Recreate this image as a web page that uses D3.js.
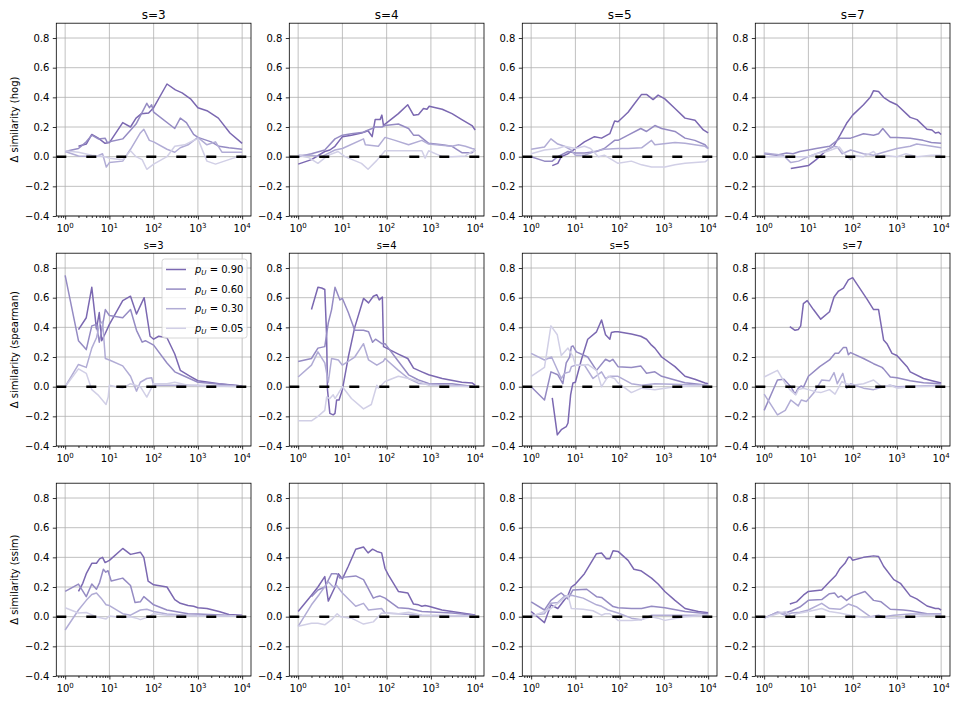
<!DOCTYPE html>
<html>
<head>
<meta charset="utf-8">
<script src="https://cdn.jsdelivr.net/npm/d3@7"></script>
<style>
  body { margin: 0; background: #fff; }
  text { font-family: "DejaVu Sans", sans-serif; fill: #000; }
</style>
</head>
<body>
<div id="chart"></div>
<script>
"use strict";

// chart values ////////////////////////////////////////////
var sValues = [3, 4, 5, 7];
var metrics = ["hog", "spearman", "ssim"];
var pLevels = ["0.90", "0.60", "0.30", "0.05"];
var yTicks = [-0.4, -0.2, 0.0, 0.2, 0.4, 0.6, 0.8];
var xTicks = [1, 10, 100, 1000, 10000];
var xExponents = ["0", "1", "2", "3", "4"];
var lineColors = ["#7b68b1", "#958bc3", "#b1acd5", "#d1cfe6"];

// each panel: [p=0.90, p=0.60, p=0.30, p=0.05], points are [window, delta]
var hog_s3 = [
  [[2,0.07],[3,0.085],[4,0.15],[5.6,0.125],[8,0.09],[10,0.095],[20,0.23],[30,0.2],[40,0.26],[53,0.29],[77,0.295],[100,0.33],[200,0.49],[310,0.45],[440,0.43],[680,0.39],[1000,0.33],[1600,0.31],[2900,0.26],[5300,0.16],[10000,0.09]],
  [[1,0.035],[2,0.055],[3,0.1],[4,0.145],[5.6,0.12],[8,0.125],[9,0.095],[10,0.1],[20,0.12],[40,0.22],[70,0.36],[80,0.33],[90,0.35],[100,0.3],[300,0.19],[400,0.26],[550,0.23],[800,0.15],[1000,0.13],[2000,0.1],[3000,0.07],[5000,0.06],[10000,0.05]],
  [[1,0.035],[2,0.005],[5,0.0],[7,0.02],[8.5,-0.07],[10,-0.04],[20,-0.03],[30,0.05],[50,0.16],[60,0.185],[80,0.11],[100,0.1],[200,0.05],[300,0.03],[400,0.06],[600,0.08],[1000,0.13],[1600,0.08],[2500,0.1],[3500,0.03],[10000,0.03]],
  [[1,0.04],[2,0.03],[4,0.01],[8,0.0],[10,-0.01],[20,-0.02],[30,0.04],[40,0.0],[55,-0.02],[70,-0.085],[100,-0.05],[200,0.0],[300,0.07],[500,0.08],[800,0.11],[1000,0.12],[1600,-0.03],[2500,-0.05],[5000,-0.02],[10000,0.01]]
];
var hog_s4 = [
  [[1,-0.05],[2,-0.02],[4,0.035],[5.2,0.045],[6.8,0.07],[10,0.135],[16,0.145],[27,0.16],[38,0.175],[47,0.135],[55,0.25],[71,0.25],[78,0.28],[85,0.21],[92,0.22],[184,0.29],[300,0.35],[405,0.28],[525,0.285],[680,0.325],[815,0.32],[915,0.34],[1800,0.32],[3000,0.29],[5000,0.25],[8500,0.21],[10000,0.18]],
  [[1,0.0],[2,0.02],[4,0.045],[6.8,0.12],[10,0.145],[16,0.155],[30,0.165],[35,0.175],[47,0.19],[55,0.2],[78,0.2],[92,0.21],[184,0.22],[313,0.19],[405,0.145],[525,0.145],[890,0.09],[1800,0.08],[3000,0.07],[5000,0.027],[8500,0.027],[10000,0.045]],
  [[1,0.01],[2,0.01],[3.4,0.0],[6.8,0.045],[10,0.055],[30,0.12],[33,0.08],[65,0.07],[92,0.13],[155,0.11],[313,0.08],[625,0.11],[890,0.085],[3000,0.07],[4200,0.08],[6000,0.07],[8500,0.055],[10000,0.05]],
  [[1,0.01],[1.7,-0.005],[2.8,-0.045],[4.8,0.01],[8,0.035],[11.4,0.0],[27,-0.045],[38,-0.085],[60,-0.025],[92,0.04],[625,0.04],[740,-0.01],[890,0.04],[1800,0.0],[3000,0.0],[6000,0.005],[8500,0.035],[10000,0.04]]
];
var hog_s5 = [
  [[3,-0.06],[4,-0.045],[4.8,0.0],[6.8,0.02],[10,0.055],[16,0.1],[27,0.135],[39,0.125],[60,0.155],[77,0.24],[92,0.235],[155,0.3],[220,0.36],[313,0.42],[405,0.42],[570,0.385],[740,0.415],[1050,0.39],[1780,0.325],[3000,0.26],[5050,0.245],[7800,0.18],[10000,0.16]],
  [[1,0.0],[2,-0.03],[3,-0.03],[4,0.0],[6.8,0.035],[10,0.025],[16,0.025],[30,0.035],[45,0.055],[77,0.11],[92,0.11],[155,0.145],[300,0.19],[405,0.17],[625,0.21],[890,0.19],[1780,0.17],[3000,0.125],[5000,0.11],[8500,0.08],[10000,0.055]],
  [[1,0.05],[2,0.065],[2.8,0.12],[4,0.085],[5.7,0.07],[8,0.045],[10,0.01],[16,0.01],[27,0.035],[45,0.05],[92,0.055],[155,0.055],[313,0.06],[525,0.11],[625,0.08],[890,0.085],[1780,0.095],[3000,0.09],[5000,0.08],[8500,0.07],[10000,0.055]],
  [[1,0.02],[2,0.045],[4,0.055],[5.7,0.07],[10,0.055],[16,0.07],[22,0.055],[33,0.0],[45,0.01],[92,-0.045],[184,-0.03],[313,-0.055],[525,-0.07],[1050,-0.07],[1780,-0.055],[3000,-0.045],[5000,-0.04],[8500,-0.035],[10000,-0.02]]
];
var hog_s7 = [
  [[4,-0.08],[6.4,-0.07],[10,-0.06],[15,-0.02],[26,0.045],[37,0.07],[52,0.145],[73,0.225],[100,0.28],[176,0.35],[250,0.4],[297,0.445],[385,0.44],[500,0.40],[710,0.37],[1000,0.35],[2000,0.265],[2850,0.25],[4800,0.185],[6200,0.18],[7400,0.16],[8800,0.165],[10000,0.15]],
  [[1,0.02],[1.9,0.01],[3.2,0.025],[4.5,0.02],[6.4,0.035],[10,0.045],[15,0.055],[30,0.07],[52,0.125],[90,0.125],[176,0.155],[297,0.145],[385,0.155],[480,0.19],[710,0.13],[1000,0.13],[2000,0.125],[3900,0.11],[6000,0.095],[10000,0.09]],
  [[1,0.025],[2.7,0.01],[4,-0.04],[6,-0.03],[10,0.0],[15,0.02],[26,0.045],[37,0.07],[45,0.065],[58,0.02],[90,0.045],[176,0.02],[297,0.01],[500,0.03],[1000,0.055],[2000,0.07],[2800,0.085],[4800,0.075],[10000,0.06]],
  [[1,0.0],[2.7,0.0],[6.4,0.0],[10,0.0],[15,0.02],[26,0.035],[50,0.065],[63,0.025],[90,-0.02],[100,0.01],[176,0.0],[297,0.035],[385,0.0],[500,0.01],[1000,0.0],[1600,0.02],[2850,0.0],[6000,0.01],[10000,0.01]]
];
var sp_s3 = [
  [[2,0.385],[3,0.465],[4,0.67],[5.1,0.39],[5.9,0.5],[6.7,0.31],[8.1,0.36],[10,0.42],[20,0.58],[30,0.61],[41,0.49],[61,0.6],[83,0.34],[100,0.32],[130,0.34],[200,0.33],[300,0.22],[400,0.11],[670,0.07],[1000,0.04],[3000,0.02],[10000,0.005]],
  [[1,0.75],[2,0.31],[3,0.25],[4,0.41],[5.1,0.42],[5.9,0.3],[6.7,0.38],[8.1,0.52],[10,0.48],[20,0.465],[30,0.52],[41,0.38],[55,0.3],[65,0.31],[100,0.28],[200,0.16],[300,0.1],[500,0.07],[1000,0.03],[10000,0.005]],
  [[1,0.0],[2,0.15],[3,0.13],[4,0.26],[5.1,0.33],[6,0.42],[7,0.44],[8.1,0.19],[10,0.18],[20,0.14],[30,0.07],[41,-0.03],[50,0.03],[70,0.055],[90,0.06],[100,0.01],[200,0.01],[500,0.01],[10000,0.005]],
  [[1,0.0],[2,0.12],[3,0.09],[4,-0.02],[5.5,-0.055],[8.4,-0.12],[9.4,-0.07],[10,0.01],[20,-0.01],[30,0.02],[50,0.0],[70,-0.07],[100,0.02],[200,0.02],[300,0.03],[600,0.01],[10000,0.0]]
];
var sp_s4 = [
  [[2,0.52],[2.8,0.67],[3.4,0.665],[4,0.655],[4.4,0.34],[4.6,-0.02],[5.2,-0.18],[6.2,-0.19],[6.8,-0.18],[7.4,-0.09],[8.4,-0.09],[10,-0.02],[13.6,0.2],[19,0.4],[30,0.595],[39,0.565],[50,0.61],[60,0.62],[68,0.585],[80,0.605],[85,0.27],[184,0.22],[300,0.19],[405,0.125],[625,0.1],[890,0.08],[1800,0.055],[5000,0.03],[8500,0.025],[10000,0.01]],
  [[1,0.17],[2,0.19],[2.8,0.26],[4,0.27],[4.8,0.43],[5.7,0.52],[6.8,0.67],[8.8,0.585],[10,0.595],[13.6,0.5],[19,0.38],[30,0.38],[39,0.37],[48,0.3],[56,0.32],[78,0.29],[92,0.29],[155,0.2],[313,0.08],[525,0.045],[890,0.022],[3000,0.02],[10000,0.0]],
  [[1,0.065],[2,0.145],[2.8,0.235],[4,0.16],[4.8,0.03],[5.7,0.19],[8.1,0.18],[10,0.145],[19,0.2],[30,0.29],[39,0.18],[60,0.145],[84,0.17],[92,0.19],[184,0.11],[313,0.055],[525,0.022],[10000,0.0]],
  [[1,-0.23],[2,-0.23],[2.8,-0.2],[4,-0.16],[4.4,-0.07],[5.2,-0.08],[6.2,-0.055],[6.8,-0.08],[8.1,-0.045],[10,0.0],[16,-0.08],[30,-0.15],[45,-0.12],[60,0.01],[65,-0.01],[92,0.035],[184,0.07],[313,0.055],[525,0.035],[890,0.01],[10000,0.0]]
];
var sp_s5 = [
  [[3,-0.075],[3.9,-0.325],[4.8,-0.29],[6.2,-0.27],[6.8,-0.245],[7.8,-0.055],[8.8,0.025],[10,0.03],[13.6,0.18],[19,0.32],[30,0.37],[39,0.45],[48,0.35],[60,0.32],[65,0.365],[78,0.37],[92,0.37],[184,0.355],[300,0.34],[405,0.32],[525,0.28],[625,0.26],[890,0.2],[1780,0.135],[3000,0.07],[5000,0.05],[8500,0.025],[10000,0.02]],
  [[1,0.0],[2,-0.09],[2.8,0.1],[4,0.08],[5.2,0.02],[6.2,0.16],[7.4,0.2],[8.1,0.27],[8.8,0.275],[10.5,0.235],[16,0.21],[19,0.2],[30,0.11],[48,0.185],[60,0.17],[70,0.185],[92,0.135],[184,0.13],[300,0.14],[405,0.09],[625,0.1],[890,0.07],[1780,0.045],[3000,0.027],[10000,0.01]],
  [[1,0.225],[2,0.18],[2.9,0.2],[4.8,0.055],[5.7,0.09],[7.4,0.1],[8.1,0.135],[10,0.145],[16,0.145],[25,0.055],[39,0.1],[48,0.055],[60,0.07],[92,0.07],[184,0.02],[313,0.01],[625,0.02],[10000,0.01]],
  [[1,0.07],[2,0.13],[2.8,0.41],[3.9,0.35],[4.8,0.21],[6.8,0.26],[8.8,0.205],[10,0.145],[16,0.145],[19,0.15],[30,0.11],[39,0.0],[55,0.07],[77,0.055],[92,0.025],[184,-0.04],[313,-0.01],[625,-0.02],[1780,0.0],[10000,0.01]]
];
var sp_s7 = [
  [[3.8,0.405],[5,0.38],[5.9,0.385],[6.7,0.41],[7.7,0.56],[9.4,0.58],[13,0.52],[19,0.455],[30,0.505],[38,0.605],[48,0.645],[62,0.665],[80,0.72],[100,0.735],[123,0.695],[211,0.59],[297,0.52],[385,0.52],[500,0.315],[595,0.29],[775,0.225],[1000,0.21],[1700,0.135],[2000,0.1],[4000,0.055],[6200,0.04],[10000,0.025]],
  [[1,-0.16],[2,0.045],[2.8,0.05],[4,0.0],[5,-0.05],[5.9,-0.01],[6.9,0.005],[7.7,-0.005],[10,0.07],[18,0.135],[30,0.18],[40,0.225],[48,0.225],[62,0.265],[72,0.265],[80,0.215],[90,0.23],[176,0.19],[297,0.155],[460,0.13],[500,0.12],[710,0.065],[1000,0.06],[2000,0.04],[4000,0.027],[10000,0.02]],
  [[1,-0.05],[2,-0.19],[3,-0.16],[4,-0.09],[5.9,-0.13],[6.9,-0.09],[9,-0.1],[13,-0.045],[20,0.045],[30,0.04],[38,0.095],[45,0.02],[60,0.09],[73,-0.01],[90,0.02],[176,-0.01],[297,-0.02],[500,0.0],[700,0.01],[1000,0.0],[10000,0.01]],
  [[1,0.065],[2,0.11],[3,0.02],[3.8,-0.02],[5.2,-0.055],[5.9,-0.02],[7.7,-0.01],[10,-0.02],[15,-0.035],[19,-0.04],[30,-0.02],[40,-0.05],[57,0.035],[73,0.02],[100,0.01],[176,0.02],[297,0.045],[450,0.0],[710,0.01],[1000,-0.01],[2000,0.0],[10000,0.005]]
];
var ssim_s3 = [
  [[2,0.17],[2.5,0.225],[3,0.29],[4,0.36],[5.1,0.36],[6,0.39],[7,0.4],[8,0.365],[10,0.38],[20,0.46],[30,0.42],[50,0.435],[60,0.4],[75,0.24],[100,0.215],[200,0.2],[300,0.115],[400,0.09],[600,0.075],[800,0.07],[1000,0.06],[1600,0.055],[3000,0.035],[5000,0.015],[10000,0.01]],
  [[1,0.17],[2,0.22],[3,0.135],[4,0.22],[5.1,0.185],[6,0.23],[7.3,0.32],[8.3,0.3],[9.3,0.31],[11,0.24],[20,0.26],[30,0.21],[38,0.095],[50,0.1],[60,0.135],[100,0.08],[200,0.045],[600,0.02],[1000,0.018],[10000,0.005]],
  [[1,-0.09],[2,0.045],[3,0.11],[4,0.15],[5.1,0.16],[6.5,0.125],[8.4,0.08],[10,0.075],[20,0.02],[30,0.01],[50,0.045],[70,0.05],[100,0.035],[200,0.018],[600,0.01],[10000,0.005]],
  [[1,0.06],[2,0.025],[3,0.028],[5,0.0],[8.4,-0.015],[10,0.005],[20,-0.005],[30,0.0],[41,-0.01],[50,-0.02],[77,0.0],[100,0.02],[200,0.01],[1000,0.005],[10000,0.005]]
];
var ssim_s4 = [
  [[1,0.035],[2,0.145],[2.8,0.2],[4,0.27],[4.8,0.105],[6.8,0.2],[8.1,0.29],[10,0.255],[13.6,0.34],[20,0.455],[30,0.47],[38,0.43],[48,0.455],[60,0.44],[77,0.43],[92,0.325],[110,0.28],[184,0.17],[300,0.16],[405,0.085],[525,0.08],[625,0.07],[740,0.075],[890,0.07],[1780,0.045],[5000,0.025],[10000,0.012]],
  [[2,0.135],[2.8,0.18],[4,0.2],[5.7,0.29],[7.4,0.29],[8.8,0.26],[10,0.265],[20,0.275],[30,0.25],[50,0.125],[60,0.135],[70,0.14],[92,0.125],[184,0.06],[313,0.055],[625,0.035],[3000,0.025],[10000,0.01]],
  [[1,-0.065],[2,0.08],[3,0.15],[4.8,0.235],[6.2,0.2],[7.4,0.21],[10,0.16],[20,0.07],[30,0.09],[39,0.045],[77,0.055],[92,0.025],[184,0.02],[625,0.01],[10000,0.005]],
  [[1,-0.065],[2,-0.045],[2.8,-0.045],[4,-0.055],[5.7,-0.02],[7.6,0.02],[9,0.0],[16,-0.01],[30,-0.05],[50,-0.035],[77,0.025],[184,0.02],[313,0.03],[625,0.01],[10000,0.005]]
];
var ssim_s5 = [
  [[1,0.035],[2,-0.04],[2.8,0.08],[4,0.055],[6.8,0.145],[8.1,0.2],[10,0.22],[16,0.29],[30,0.425],[39,0.43],[50,0.39],[60,0.39],[71,0.445],[92,0.44],[155,0.38],[210,0.32],[300,0.31],[525,0.26],[740,0.22],[1050,0.17],[1780,0.11],[3000,0.055],[4200,0.045],[6000,0.035],[10000,0.027]],
  [[1,0.1],[2,0.045],[2.8,0.11],[4,0.145],[4.8,0.16],[6.8,0.12],[8.8,0.18],[18,0.185],[30,0.135],[39,0.13],[71,0.068],[92,0.06],[184,0.055],[313,0.055],[525,0.07],[1050,0.06],[3000,0.035],[10000,0.02]],
  [[1,0.01],[2,0.02],[2.8,0.09],[4,0.095],[5.7,0.14],[8.1,0.145],[15,0.125],[30,0.08],[39,0.07],[55,0.045],[92,0.025],[184,-0.01],[313,-0.02],[525,0.01],[1050,0.01],[3000,0.01],[10000,0.01]],
  [[1,0.0],[2,0.035],[2.8,0.055],[4,0.09],[6.8,0.145],[8.1,0.055],[15,0.05],[25,0.04],[39,0.01],[47,0.02],[60,0.02],[92,-0.025],[184,-0.025],[313,-0.02],[525,0.0],[740,-0.01],[1050,-0.025],[3000,0.0],[10000,0.01]]
];
var ssim_s7 = [
  [[3.8,0.085],[5.4,0.1],[7.7,0.145],[10,0.17],[20,0.18],[30,0.235],[42,0.28],[52,0.325],[67,0.36],[80,0.4],[90,0.4],[100,0.38],[176,0.4],[297,0.41],[385,0.405],[500,0.34],[850,0.25],[1200,0.225],[2000,0.14],[2800,0.12],[4800,0.072],[7400,0.055],[8800,0.055],[10000,0.045]],
  [[1,-0.01],[2,0.03],[3,0.025],[4.2,0.04],[6.4,0.065],[10,0.11],[20,0.115],[30,0.155],[39,0.16],[47,0.13],[55,0.14],[73,0.11],[100,0.14],[190,0.17],[297,0.11],[440,0.1],[710,0.05],[1400,0.045],[2000,0.04],[4800,0.02],[10000,0.018]],
  [[1,-0.01],[2,0.03],[3,0.01],[4.2,0.025],[6.4,0.03],[10,0.045],[20,0.09],[30,0.055],[52,0.05],[80,0.085],[125,0.065],[250,0.0],[385,0.01],[500,0.0],[850,0.01],[2000,0.018],[10000,0.018]],
  [[1,-0.01],[2,0.02],[3,0.035],[4.2,-0.005],[5.3,0.02],[10,0.035],[20,0.055],[30,0.035],[50,0.025],[90,0.01],[190,-0.005],[350,0.0],[710,-0.01],[1600,-0.005],[4800,0.01],[10000,0.01]]
];

var panels = [
  [hog_s3, hog_s4, hog_s5, hog_s7],
  [sp_s3, sp_s4, sp_s5, sp_s7],
  [ssim_s3, ssim_s4, ssim_s5, ssim_s7]
];

// layout ///////////////////////////////////////////////////
var width = 957, height = 704;
var colLeft = [56.3, 289.3, 522.3, 755.3];
var rowTop = [23.2, 253.2, 483.2];
var pw = 194.7, ph = 192.8;
var titleSize = [12, 10, 0];

var svg = d3.select('#chart').append('svg')
    .attr('width', width).attr('height', height);

var x = d3.scaleLog().domain([Math.pow(10, -0.2), Math.pow(10, 4.2)]).range([0, pw]);
var y = d3.scaleLinear().domain([-0.4, 0.9]).range([ph, 0]);

// minor log ticks
var minorTicks = [];
for (var e = -1; e <= 4; e++) {
    for (var k = 2; k <= 9; k++) {
        var v = k * Math.pow(10, e);
        if (v >= x.domain()[0] && v <= x.domain()[1]) minorTicks.push(v);
    }
}

var line = d3.line().x(function(d) { return x(d[0]); }).y(function(d) { return y(d[1]); });

panels.forEach(function(row, r) {
    row.forEach(function(series, c) {
        var g = svg.append('g').attr('transform', 'translate(' + colLeft[c] + ',' + rowTop[r] + ')');
        var clipId = 'clip' + r + c;
        g.append('clipPath').attr('id', clipId).append('rect').attr('width', pw).attr('height', ph);

        // grid
        g.selectAll('.gx').data(xTicks).enter().append('line')
            .attr('x1', function(d) { return x(d); }).attr('x2', function(d) { return x(d); })
            .attr('y1', 0).attr('y2', ph)
            .attr('stroke', '#b0b0b0').attr('stroke-width', 0.8);
        g.selectAll('.gy').data(yTicks).enter().append('line')
            .attr('y1', function(d) { return y(d); }).attr('y2', function(d) { return y(d); })
            .attr('x1', 0).attr('x2', pw)
            .attr('stroke', '#b0b0b0').attr('stroke-width', 0.8);

        // series lines
        var lg = g.append('g').attr('clip-path', 'url(#' + clipId + ')');
        series.forEach(function(pts, i) {
            lg.append('path').datum(pts)
                .attr('d', line)
                .attr('fill', 'none')
                .attr('stroke', lineColors[i])
                .attr('stroke-width', 1.5)
                .attr('stroke-linejoin', 'round');
        });

        // zero reference
        lg.append('line')
            .attr('x1', 0).attr('x2', pw)
            .attr('y1', y(0)).attr('y2', y(0))
            .attr('stroke', '#000').attr('stroke-width', 2.5)
            .attr('stroke-dasharray', '10,20');

        // axes
        var ya = g.append('g').call(d3.axisLeft(y).tickValues(yTicks).tickSize(3.5).tickPadding(3.5)
            .tickFormat(d3.format('.1f')));
        var xa = g.append('g').attr('transform', 'translate(0,' + ph + ')')
            .call(d3.axisBottom(x).tickValues(xTicks).tickSize(3.5).tickFormat(''));
        g.append('g').attr('transform', 'translate(0,' + ph + ')')
            .call(d3.axisBottom(x).tickValues(minorTicks).tickSize(2).tickFormat(''))
            .select('.domain').remove();
        [ya, xa].forEach(function(a) {
            a.select('.domain').remove();
            a.selectAll('line').attr('stroke', '#000').attr('stroke-width', 0.8);
            a.selectAll('text').attr('font-size', 10).attr('font-family', 'DejaVu Sans').attr('fill', '#000');
        });
        g.selectAll('.tick line').attr('stroke', '#000').attr('stroke-width', 0.8);

        xTicks.forEach(function(t, i) {
            var tx = g.append('text')
                .attr('x', x(t)).attr('y', ph + 16.5)
                .attr('text-anchor', 'middle').attr('font-size', 10);
            tx.append('tspan').text('10');
            tx.append('tspan').attr('dy', -4.5).attr('font-size', 7).text(xExponents[i]);
        });

        // frame
        g.append('rect').attr('width', pw).attr('height', ph)
            .attr('fill', 'none').attr('stroke', '#000').attr('stroke-width', 0.8);

        if (titleSize[r] > 0) {
            g.append('text').attr('x', pw / 2).attr('y', -4.2)
                .attr('text-anchor', 'middle').attr('font-size', titleSize[r])
                .text('s=' + sValues[c]);
        }

        if (c === 0) {
            svg.append('text')
                .attr('transform', 'translate(18,' + (rowTop[r] + ph / 2) + ') rotate(-90)')
                .attr('text-anchor', 'middle').attr('font-size', 10)
                .text('\u0394 similarity (' + metrics[r] + ')');
        }

        // legend in the spearman s=3 panel
        if (r === 1 && c === 0) {
            var leg = g.append('g').attr('transform', 'translate(105.7,5.8)');
            leg.append('rect').attr('width', 85).attr('height', 79).attr('rx', 2.5)
                .attr('fill', '#fff').attr('fill-opacity', 0.8)
                .attr('stroke', '#cccccc').attr('stroke-width', 0.8);
            pLevels.forEach(function(p, i) {
                var ly = 10.5 + i * 19.6;
                leg.append('line').attr('x1', 4).attr('x2', 24).attr('y1', ly).attr('y2', ly)
                    .attr('stroke', lineColors[i]).attr('stroke-width', 1.5);
                var t = leg.append('text').attr('x', 33).attr('y', ly + 3.6).attr('font-size', 10);
                t.append('tspan').attr('font-style', 'italic').text('p');
                t.append('tspan').attr('font-style', 'italic').attr('font-size', 7).attr('dy', 2).text('U');
                t.append('tspan').attr('dy', -2).text(' = ' + p);
            });
        }
    });
});
</script>
</body>
</html>
